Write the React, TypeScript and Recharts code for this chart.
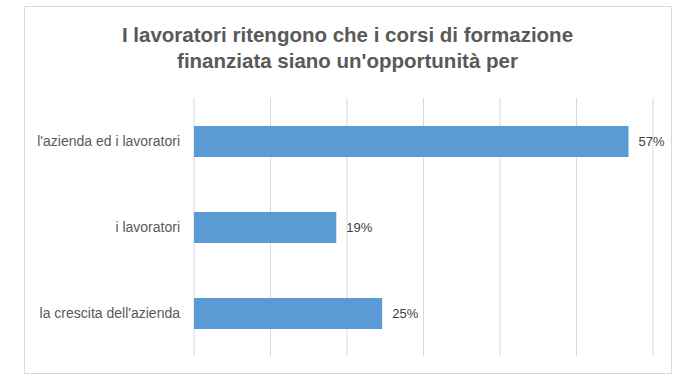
import React from "react";
import { BarChart, Bar, XAxis, YAxis, CartesianGrid, LabelList } from "recharts";

// categorie e valori
const categorie = ["l'azienda ed i lavoratori", "i lavoratori", "la crescita dell'azienda"];
const percentuali = [56.8, 18.6, 24.6];
const ticksX = [0, 10, 20, 30, 40, 50, 60];
const titolo = ["I lavoratori ritengono che i corsi di formazione", "finanziata siano un'opportunità per"];

const dati = categorie.map((nome, i) => ({ nome, valore: percentuali[i] }));

const font = "'Liberation Sans', Arial, sans-serif";

const App = () => (
  <div style={{ position: "absolute", left: 0, top: 0, width: 690, height: 383, background: "#fff", fontFamily: font }}>
    {/* cornice del grafico */}
    <div
      style={{
        position: "absolute",
        left: 24,
        top: 6,
        width: 646,
        height: 366,
        border: "1px solid #d9d9d9",
      }}
    />
    <div
      style={{
        position: "absolute",
        left: 24,
        top: 22,
        width: 647,
        textAlign: "center",
        color: "#595959",
        fontSize: 20.5,
        fontWeight: "bold",
        lineHeight: "26px",
      }}
    >
      {titolo.map((riga) => (
        <div key={riga}>{riga}</div>
      ))}
    </div>
    <BarChart
      width={690}
      height={383}
      data={dati}
      layout="vertical"
      margin={{ top: 98, right: 37, bottom: 27, left: 0 }}
      style={{ position: "absolute", left: 0, top: 0 }}
    >
      <CartesianGrid horizontal={false} stroke="#d9d9d9" />
      <XAxis type="number" domain={[0, 60]} ticks={ticksX} hide />
      <YAxis
        type="category"
        dataKey="nome"
        width={194}
        axisLine={false}
        tickLine={false}
        tickMargin={8}
        tick={{ fill: "#595959", fontSize: 14, fontFamily: font }}
      />
      <Bar dataKey="valore" fill="#5b9bd5" barSize={31} isAnimationActive={false}>
        <LabelList
          dataKey="valore"
          position="right"
          offset={10}
          formatter={(v: any) => `${Math.round(v)}%`}
          style={{ fill: "#404040", fontSize: 13, fontFamily: font }}
        />
      </Bar>
    </BarChart>
  </div>
);

export default App;
